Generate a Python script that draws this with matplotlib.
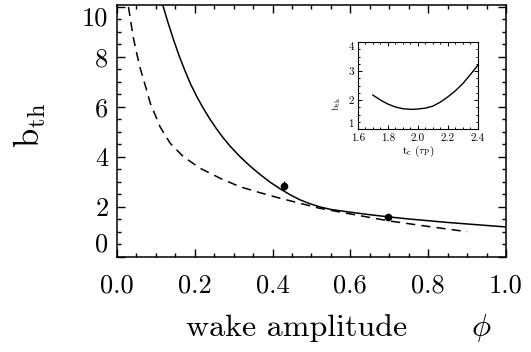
import matplotlib
matplotlib.use("Agg")
import matplotlib.pyplot as plt
from matplotlib.ticker import MultipleLocator

plt.rcParams['mathtext.fontset'] = 'cm'
plt.rcParams['font.family'] = ['cmr10', 'DejaVu Serif']
plt.rcParams['axes.formatter.use_mathtext'] = True

# main panel: threshold b_th vs wake amplitude phi
phi_solid = [0.118, 0.130, 0.145, 0.160, 0.175, 0.190, 0.206, 0.222, 0.239,
             0.255, 0.270, 0.290, 0.316, 0.342, 0.368, 0.394, 0.419, 0.445,
             0.470, 0.496, 0.522, 0.550, 0.600, 0.650, 0.700, 0.750, 0.800,
             0.850, 0.900, 0.950, 1.000]
b_solid = [10.08, 9.45, 8.72, 8.05, 7.45, 6.90, 6.40, 5.95, 5.52,
           5.15, 4.83, 4.45, 4.02, 3.64, 3.30, 2.99, 2.73, 2.49,
           2.29, 2.13, 2.00, 1.90, 1.79, 1.69, 1.60, 1.52, 1.45,
           1.38, 1.32, 1.26, 1.20]

phi_dash = [0.030, 0.034, 0.042, 0.051, 0.060, 0.069, 0.086, 0.111, 0.137,
            0.171, 0.214, 0.265, 0.316, 0.368, 0.419, 0.470, 0.520, 0.600,
            0.700, 0.800, 0.900]
b_dash = [10.0, 9.60, 8.80, 8.15, 7.55, 7.08, 6.15, 5.21, 4.55,
          4.01, 3.55, 3.15, 2.81, 2.57, 2.35, 2.15, 1.95, 1.72,
          1.44, 1.22, 1.01]

phi_pts = [0.430, 0.698]
b_pts = [2.82, 1.60]
b_err = [0.20, 0.10]

# inset: b_th vs t_c
tc_inset = [1.70, 1.75, 1.80, 1.85, 1.90, 1.95, 1.98, 2.05, 2.10, 2.15,
            2.20, 2.25, 2.30, 2.35, 2.40]
b_inset = [2.17, 2.00, 1.86, 1.76, 1.70, 1.68, 1.68, 1.72, 1.79, 1.93,
           2.11, 2.32, 2.57, 2.88, 3.20]

x_ticks = [0.0, 0.2, 0.4, 0.6, 0.8, 1.0]
x_ticklabels = ['0.0', '0.2', '0.4', '0.6', '0.8', '1.0']
y_ticks = [0, 2, 4, 6, 8, 10]
y_ticklabels = ['0', '2', '4', '6', '8', '10']

inset_x_ticks = [1.6, 1.8, 2.0, 2.2, 2.4]
inset_x_labels = ['1.6', '1.8', '2.0', '2.2', '2.4']
inset_y_ticks = [1, 2, 3, 4]
inset_y_labels = ['1', '2', '3', '4']

fig = plt.figure(figsize=(5.31, 3.52), dpi=100)
ax = fig.add_axes([0.220, 0.270, 0.733, 0.716])

ax.plot(phi_solid, b_solid, color='black', lw=1.1)
ax.plot(phi_dash, b_dash, color='black', lw=1.1, dashes=(6, 4))
ax.errorbar(phi_pts, b_pts, yerr=b_err, fmt='o', color='black',
            ms=4.5, elinewidth=1.0, capsize=0)

ax.set_xlim(0, 1.0)
ax.set_ylim(0, 10.08)
ax.set_xticks(x_ticks)
ax.set_xticklabels(x_ticklabels)
ax.set_yticks(y_ticks)
ax.set_yticklabels(y_ticklabels)
ax.xaxis.set_minor_locator(MultipleLocator(0.05))
ax.yaxis.set_minor_locator(MultipleLocator(0.5))
ax.tick_params(which='both', direction='in', top=True, right=True, width=1.0)
ax.tick_params(which='major', length=6)
ax.tick_params(which='minor', length=3)
ax.tick_params(axis='x', labelsize=19, pad=12)
ax.tick_params(axis='y', labelsize=19, pad=6)
for sp in ax.spines.values():
    sp.set_linewidth(1.1)

# old plotting package nudges end labels inside the frame
ylabs = ax.get_yticklabels()
ylabs[0].set_va('bottom')
ylabs[-1].set_va('top')

fig.text(297 / 531, 1 - 328 / 352, 'wake amplitude', fontsize=23,
         ha='center', va='center')
fig.text(481 / 531, 1 - 328 / 352, r'$\phi$', fontsize=23,
         ha='center', va='center')
fig.text(30 / 531, 1 - 125 / 352, r'$\mathrm{b_{th}}$', fontsize=25,
         rotation=90, ha='center', va='center')

# inset
ins = fig.add_axes([0.674, 0.6335, 0.226, 0.247])
ins.plot(tc_inset, b_inset, color='black', lw=1.0)
ins.set_xlim(1.6, 2.4)
ins.set_ylim(1, 4)
ins.set_xticks(inset_x_ticks)
ins.set_xticklabels(inset_x_labels)
ins.set_yticks(inset_y_ticks)
ins.set_yticklabels(inset_y_labels)
ins.xaxis.set_minor_locator(MultipleLocator(0.05))
ins.yaxis.set_minor_locator(MultipleLocator(0.25))
ins.tick_params(which='both', direction='in', top=True, right=True,
                width=0.7, labelsize=8, pad=3)
ins.tick_params(which='major', length=3)
ins.tick_params(which='minor', length=1.5)
for sp in ins.spines.values():
    sp.set_linewidth(0.8)
ilabs = ins.get_yticklabels()
ilabs[0].set_va('bottom')
ilabs[-1].set_va('top')
ins.set_xlabel(r'$\mathrm{t_c\ (\tau_P)}$', fontsize=8, labelpad=1)
fig.text(337 / 531, 1 - 104 / 352, r'$\mathrm{b_{th}}$', fontsize=7,
         rotation=90, ha='center', va='center')

fig.savefig('out.png', dpi=100)
